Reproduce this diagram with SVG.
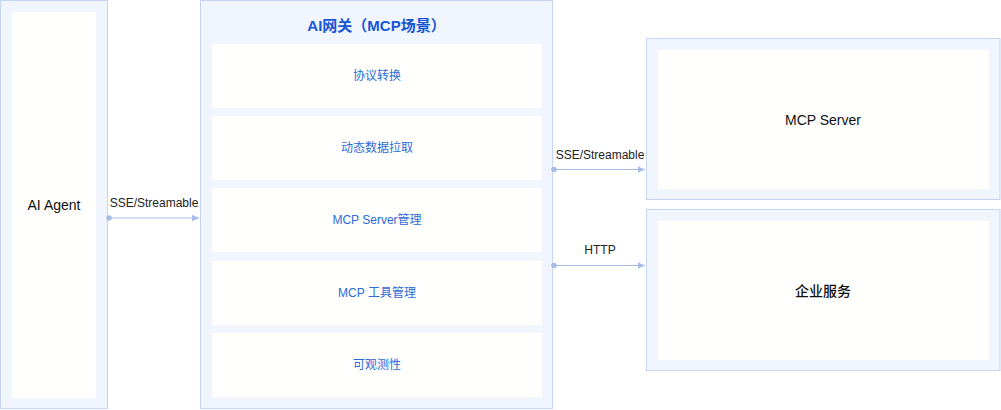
<svg xmlns="http://www.w3.org/2000/svg" width="1001" height="410" viewBox="0 0 1001 410">
<defs>
<style>
.panel{fill:#f0f5fe;stroke:#c6d5f5;stroke-width:1}
.inner{fill:#fffffe}
.lbl{font-family:"Liberation Sans","Noto Sans CJK SC",sans-serif;font-size:12px;fill:#2c6ad8;text-anchor:middle;dominant-baseline:central}
.node{font-family:"Liberation Sans","Noto Sans CJK SC",sans-serif;font-size:14px;fill:#111;text-anchor:middle;dominant-baseline:central;font-weight:500}
.title{font-family:"Liberation Sans","Noto Sans CJK SC",sans-serif;font-size:15px;fill:#1656d4;text-anchor:middle;dominant-baseline:central;font-weight:bold}
.elbl{font-family:"Liberation Sans","Noto Sans CJK SC",sans-serif;font-size:12px;fill:#222;text-anchor:middle;dominant-baseline:central}
.conn{stroke:#a9bce6;stroke-width:1.2;fill:none}
</style>
<marker id="arr" markerWidth="8" markerHeight="8" refX="7" refY="4" orient="auto" markerUnits="userSpaceOnUse">
<path d="M0,0.8 L7,4 L0,7.2 Z" fill="#a9bce6"/>
</marker>
</defs>
<rect width="1001" height="410" fill="#ffffff"/>
<g id="ai-agent">
<rect class="panel" x="0.5" y="0.5" width="107" height="408"/>
<rect class="inner" x="12" y="12" width="84" height="386"/>
<text class="node" x="54" y="205">AI Agent</text>
</g>
<g id="ai-gateway">
<rect class="panel" x="200.5" y="0.5" width="352" height="408"/>
<text class="title" x="376.5" y="25">AI网关（MCP场景）</text>
<g id="protocol">
<rect class="inner" x="212" y="44" width="330" height="64"/>
<text class="lbl" x="377" y="76">协议转换</text>
</g>
<g id="dynamic-fetch">
<rect class="inner" x="212" y="116" width="330" height="64"/>
<text class="lbl" x="377" y="148">动态数据拉取</text>
</g>
<g id="server-mgmt">
<rect class="inner" x="212" y="188" width="330" height="64"/>
<text class="lbl" x="377" y="220">MCP Server管理</text>
</g>
<g id="tool-mgmt">
<rect class="inner" x="212" y="261" width="330" height="64"/>
<text class="lbl" x="377" y="293">MCP 工具管理</text>
</g>
<g id="observability">
<rect class="inner" x="212" y="333" width="330" height="64"/>
<text class="lbl" x="377" y="365">可观测性</text>
</g>
</g>
<g id="mcp-server">
<rect class="panel" x="646.5" y="38.5" width="353.5" height="161"/>
<rect class="inner" x="658" y="50" width="331" height="139"/>
<text class="node" x="823" y="120">MCP Server</text>
</g>
<g id="enterprise">
<rect class="panel" x="646.5" y="209.5" width="353.5" height="161"/>
<rect class="inner" x="658" y="221" width="331" height="139"/>
<text class="node" x="823" y="291">企业服务</text>
</g>
<g id="connectors">
<line class="conn" x1="109" y1="218" x2="199" y2="218" marker-end="url(#arr)"/>
<circle cx="109" cy="218" r="2.8" fill="#a9bce6"/>
<text class="elbl" x="154" y="203">SSE/Streamable</text>
<line class="conn" x1="554" y1="169.5" x2="645" y2="169.5" marker-end="url(#arr)"/>
<circle cx="554" cy="169.5" r="2.8" fill="#a9bce6"/>
<text class="elbl" x="600" y="155">SSE/Streamable</text>
<line class="conn" x1="554" y1="265.5" x2="645" y2="265.5" marker-end="url(#arr)"/>
<circle cx="554" cy="265.5" r="2.8" fill="#a9bce6"/>
<text class="elbl" x="600" y="250">HTTP</text>
</g>
</svg>
